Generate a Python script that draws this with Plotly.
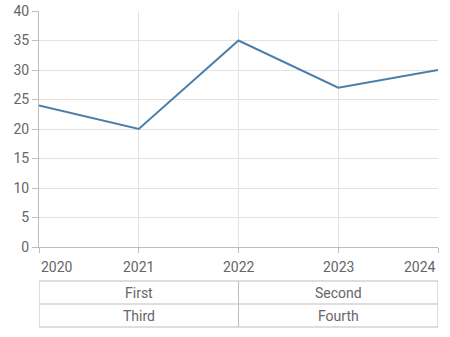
import plotly.graph_objects as go

years = [2020, 2021, 2022, 2023, 2024]
values = [24, 20, 35, 27, 30]
year_labels = ["2020", "2021", "2022", "2023", "2024"]
y_ticks = [0, 5, 10, 15, 20, 25, 30, 35, 40]
group_row1 = ["First", "Second"]
group_row2 = ["Third", "Fourth"]
group_spans = [(2020, 2022), (2022, 2024)]

W, H = 450, 337
ML, MR, MT, MB = 39, 12, 11, 90
plot_h = H - MT - MB

def py(pix):
    # pixel y (from top) -> paper coordinate
    return (H - MB - pix) / plot_h

fig = go.Figure()
fig.add_trace(go.Scatter(x=years, y=values, mode="lines",
                         line=dict(color="#4a7fab", width=2), hoverinfo="skip"))

font = dict(family="Roboto", size=14, color="#666666")
grid = "#e3e3e3"
axis_c = "#bdbdbd"

fig.update_layout(
    width=W, height=H,
    margin=dict(l=ML, r=MR, t=MT, b=MB, autoexpand=False),
    paper_bgcolor="white", plot_bgcolor="white",
    showlegend=False,
    font=font,
    xaxis=dict(range=[2020, 2024], tickvals=years, ticktext=[""] * len(years),
               showgrid=True, gridcolor=grid, gridwidth=1, automargin=False,
               showline=True, linecolor=axis_c, linewidth=1,
               ticks="outside", ticklen=5, tickcolor=axis_c, zeroline=False),
    yaxis=dict(range=[0, 40], tickvals=y_ticks, showgrid=True, gridcolor=grid,
               showline=True, linecolor=axis_c, linewidth=1, automargin=False,
               ticks="outside", ticklen=6, tickcolor=axis_c, zeroline=False,
               tickfont=font),
)

anchors = ["left", "center", "center", "center", "right"]
for x, lab, a in zip(years, year_labels, anchors):
    fig.add_annotation(x=x, y=0, xref="x", yref="paper", text=lab, showarrow=False,
                       xanchor=a, yanchor="middle", yshift=-20, font=font)

# table grid
rows_pix = [281, 304, 327]
for (x0, x1) in group_spans:
    fig.add_shape(type="rect", xref="x", yref="paper", x0=x0, x1=x1,
                  y0=py(rows_pix[0]), y1=py(rows_pix[2]),
                  line=dict(color=axis_c, width=1))
    fig.add_shape(type="line", xref="x", yref="paper", x0=x0, x1=x1,
                  y0=py(rows_pix[1]), y1=py(rows_pix[1]),
                  line=dict(color=axis_c, width=1))

for (x0, x1), t1, t2 in zip(group_spans, group_row1, group_row2):
    xm = (x0 + x1) / 2
    fig.add_annotation(x=xm, y=py((rows_pix[0] + rows_pix[1]) / 2), xref="x", yref="paper",
                       text=t1, showarrow=False, xanchor="center", yanchor="middle", font=font)
    fig.add_annotation(x=xm, y=py((rows_pix[1] + rows_pix[2]) / 2), xref="x", yref="paper",
                       text=t2, showarrow=False, xanchor="center", yanchor="middle", font=font)

fig.write_html("out.html")
